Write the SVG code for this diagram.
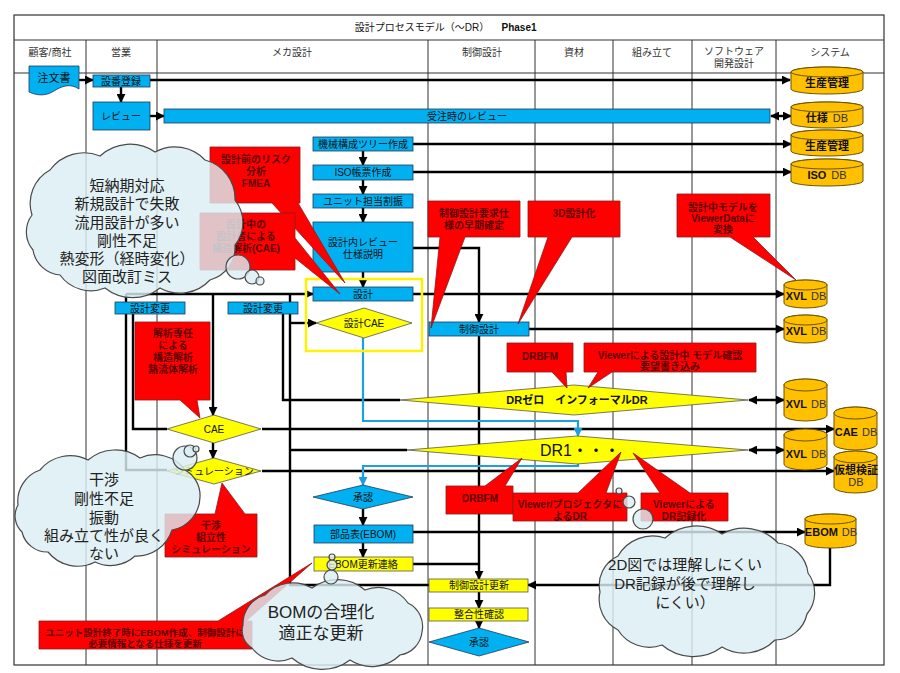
<svg xmlns="http://www.w3.org/2000/svg" width="900" height="673" viewBox="0 0 900 673">
<defs>
<style>
.col{stroke:#333;stroke-width:1;fill:none}
.ln{stroke:#000;stroke-width:2.4;fill:none}
.bl{stroke:#1E9FE0;stroke-width:2.2;fill:none}
.box{fill:#00B0F0;stroke:#1F3B5A;stroke-width:0.8}
.ybox{fill:#FFFF00;stroke:#555;stroke-width:0.8}
.db{fill:#FFC000;stroke:#6b5200;stroke-width:1}
.co{fill:#FF0000;stroke:#8b1a1a;stroke-width:0.8}
.cloud{fill:#DAEEF3;fill-opacity:0.82;stroke:#4a4a4a;stroke-width:1.2}
text{font-family:"Liberation Sans","Noto Sans CJK JP",sans-serif;text-anchor:middle;dominant-baseline:central}
.t{font-size:10px;fill:#111}
.hd{font-size:10px;fill:#333}
.ct{font-size:10px;font-weight:bold;fill:#5c0000}
.cl{font-size:15px;fill:#222}
.dbt{font-size:11px;font-weight:bold;fill:#111}
</style>
<marker id="ah" viewBox="0 0 10 10" refX="9" refY="5" markerWidth="9" markerHeight="9" markerUnits="userSpaceOnUse" orient="auto-start-reverse"><path d="M0,0 L10,5 L0,10 z" fill="#000"/></marker>
<marker id="ahb" viewBox="0 0 10 10" refX="9" refY="5" markerWidth="9" markerHeight="9" markerUnits="userSpaceOnUse" orient="auto"><path d="M0,0 L10,5 L0,10 z" fill="#1E9FE0"/></marker>
</defs>
<rect width="900" height="673" fill="#fff"/>

<g id="grid">
<rect x="14" y="15" width="870" height="650" fill="none" stroke="#333" stroke-width="1.2"/>
<line class="col" x1="14" y1="40" x2="884" y2="40"/>
<line class="col" x1="14" y1="73" x2="884" y2="73"/>
<line class="col" x1="86" y1="40" x2="86" y2="665"/>
<line class="col" x1="157" y1="40" x2="157" y2="665"/>
<line class="col" x1="428" y1="40" x2="428" y2="665"/>
<line class="col" x1="535" y1="40" x2="535" y2="665"/>
<line class="col" x1="613" y1="40" x2="613" y2="665"/>
<line class="col" x1="692" y1="40" x2="692" y2="665"/>
<line class="col" x1="776" y1="40" x2="776" y2="665"/>
<text x="422" y="27" class="hd" style="fill:#111">設計プロセスモデル（〜DR）</text>
<text x="519" y="27" class="hd" style="fill:#111;font-weight:bold">Phase1</text>
<text x="50" y="52" class="hd">顧客/商社</text>
<text x="121" y="52" class="hd">営業</text>
<text x="292" y="52" class="hd">メカ設計</text>
<text x="482" y="52" class="hd">制御設計</text>
<text x="574" y="52" class="hd">資材</text>
<text x="652" y="52" class="hd">組み立て</text>
<text x="734" y="51" class="hd">ソフトウェア</text>
<text x="734" y="63" class="hd">開発設計</text>
<text x="830" y="52" class="hd">システム</text>
</g>

<g id="connectors">
<path class="ln" d="M79,80 H93" marker-end="url(#ah)"/>
<path class="ln" d="M150,80 H790" marker-end="url(#ah)"/>
<path class="ln" d="M121,87 V102" marker-end="url(#ah)"/>
<path class="ln" d="M150,116 H164" marker-end="url(#ah)"/>
<path class="ln" d="M771,116 H791" marker-start="url(#ah)" marker-end="url(#ah)"/>
<path class="ln" d="M413,144 H791" marker-end="url(#ah)"/>
<path class="ln" d="M363,151 V165" marker-end="url(#ah)"/>
<path class="ln" d="M413,172 H791" marker-end="url(#ah)"/>
<path class="ln" d="M363,180 V194" marker-end="url(#ah)"/>
<path class="ln" d="M363,208 V222" marker-end="url(#ah)"/>
<path class="ln" d="M363,272 V287" marker-end="url(#ah)"/>
<path class="ln" d="M413,248 H479 V322" marker-end="url(#ah)"/>
<path class="ln" d="M413,294 H784" marker-end="url(#ah)"/>
<path class="ln" d="M126,294 H313" marker-end="url(#ah)"/>
<path class="ln" d="M126,294 V470 H167"/>
<path class="ln" d="M133,314 V429 H167"/>
<path class="ln" d="M213,294 V415" marker-end="url(#ah)"/>
<path class="ln" d="M213,443 V458" marker-end="url(#ah)"/>
<path class="ln" d="M262,429 H834" marker-end="url(#ah)"/>
<path class="ln" d="M262,471 H834" marker-end="url(#ah)"/>
<path class="ln" d="M283,314 V400 H400"/>
<path class="ln" d="M290,294 V585 H429"/>
<path class="ln" d="M290,323 H316" marker-end="url(#ah)"/>
<path class="ln" d="M290,450 H407"/>
<path class="ln" d="M529,329 H784" marker-end="url(#ah)"/>
<path class="ln" d="M749,400 H784" marker-start="url(#ah)" marker-end="url(#ah)"/>
<path class="ln" d="M749,450 H784" marker-start="url(#ah)" marker-end="url(#ah)"/>
<path class="ln" d="M479,336 V579" marker-end="url(#ah)"/>
<path class="ln" d="M363,509 V525" marker-end="url(#ah)"/>
<path class="ln" d="M413,532 H805" marker-end="url(#ah)"/>
<path class="ln" d="M363,543 V557" marker-end="url(#ah)"/>
<path class="ln" d="M413,564 H479"/>
<path class="ln" d="M830,548 V585 H528" marker-end="url(#ah)"/>
<path class="ln" d="M479,592 V608" marker-end="url(#ah)"/>
<path class="ln" d="M479,621 V628" marker-end="url(#ah)"/>
<path class="bl" d="M363,338 V421 H578 V436" marker-end="url(#ahb)"/>
<path class="bl" d="M578,463 V466 H363 V485" marker-end="url(#ahb)"/>
</g>

<g id="n-chumonsho"><path class="box" d="M29,66 H79 V89 C70,83 62,86 54,91 C46,96 38,96 29,92 Z"/><text x="54" y="78" class="t" style="font-size:11px">注文書</text></g>
<g id="n-setsuban"><rect class="box" x="93" y="75" width="57" height="12"/><text x="121" y="81" class="t">設番登録</text></g>
<g id="n-review"><rect class="box" x="93" y="102" width="57" height="28"/><text x="121" y="116" class="t">レビュー</text></g>
<g id="n-juchu"><rect class="box" x="164" y="109" width="606" height="14"/><text x="467" y="116" class="t">受注時のレビュー</text></g>
<g id="n-kikai"><rect class="box" x="313" y="137" width="100" height="14"/><text x="363" y="144" class="t">機械構成ツリー作成</text></g>
<g id="n-iso"><rect class="box" x="313" y="165" width="100" height="15"/><text x="363" y="172.5" class="t">ISO帳票作成</text></g>
<g id="n-unit"><rect class="box" x="313" y="194" width="100" height="14"/><text x="363" y="201" class="t">ユニット担当割振</text></g>
<g id="n-naireview"><rect class="box" x="313" y="222" width="100" height="50"/><text x="363" y="242" class="t">設計内レビュー</text><text x="363" y="254" class="t">仕様説明</text></g>
<g id="n-yframe"><rect x="306" y="279" width="116" height="72" fill="none" stroke="#FFF200" stroke-width="2.5"/></g>
<g id="n-sekkei"><rect class="box" x="313" y="287" width="100" height="14"/><text x="363" y="294" class="t">設計</text></g>
<g id="n-sekkeicae"><polygon class="ybox" points="316,323 364,308 412,323 364,338"/><text x="364" y="323" class="t">設計CAE</text></g>
<g id="n-henko1"><rect class="box" x="115" y="302" width="70" height="12"/><text x="150" y="308" class="t">設計変更</text></g>
<g id="n-henko2"><rect class="box" x="228" y="302" width="70" height="12"/><text x="263" y="308" class="t">設計変更</text></g>
<g id="n-seigyo"><rect class="box" x="429" y="322" width="100" height="14"/><text x="479" y="329" class="t">制御設計</text></g>
<g id="n-cae"><polygon class="ybox" points="167,429 214,415 261,429 214,443"/><text x="214" y="429" class="t">CAE</text></g>
<g id="n-sim"><polygon class="ybox" points="167,471 214,458 261,471 214,484"/><text x="214" y="471" class="t">シミュレーション</text></g>
<g id="n-drzero"><polygon class="ybox" points="400,400 574,385 748,400 574,415"/><text x="577" y="400" class="t" style="font-size:11px;font-weight:bold">DRゼロ　インフォーマルDR</text></g>
<g id="n-dr1"><polygon class="ybox" points="407,450 577,436 748,450 577,464"/><text x="580" y="450" class="t" style="font-size:16px">DR1・・・</text></g>
<g id="n-shonin1"><polygon class="box" points="313,497 363,485 413,497 363,509"/><text x="363" y="497" class="t">承認</text></g>
<g id="n-ebom"><rect class="box" x="314" y="525" width="99" height="18"/><text x="363" y="534" class="t">部品表(EBOM)</text></g>
<g id="n-ebomkoshin"><rect class="ybox" x="314" y="557" width="99" height="14"/><text x="363" y="564" class="t">EBOM更新連絡</text></g>
<g id="n-seigyokoshin"><rect class="ybox" x="429" y="579" width="99" height="13"/><text x="479" y="585.5" class="t">制御設計更新</text></g>
<g id="n-seigo"><rect class="ybox" x="429" y="608" width="99" height="13"/><text x="479" y="614.5" class="t">整合性確認</text></g>
<g id="n-shonin2"><polygon class="box" points="429,642 479,628 529,642 479,656"/><text x="479" y="642" class="t">承認</text></g>

<g id="db-seisan1"><path class="db" d="M791,72 A36,5 0 0 1 863,72 V89 A36,5 0 0 1 791,89 Z"/><ellipse class="db" cx="827" cy="72" rx="36" ry="5"/><text x="827" y="83" class="dbt">生産管理</text></g>
<g id="db-shiyo"><path class="db" d="M791,107 A36,5 0 0 1 863,107 V123 A36,5 0 0 1 791,123 Z"/><ellipse class="db" cx="827" cy="107" rx="36" ry="5"/><text x="827" y="118" class="dbt">仕様<tspan dx="5" style="font-weight:normal;fill:#333">DB</tspan></text></g>
<g id="db-seisan2"><path class="db" d="M791,135 A36,5 0 0 1 863,135 V151 A36,5 0 0 1 791,151 Z"/><ellipse class="db" cx="827" cy="135" rx="36" ry="5"/><text x="827" y="146" class="dbt">生産管理</text></g>
<g id="db-iso"><path class="db" d="M791,164 A36,5 0 0 1 863,164 V181 A36,5 0 0 1 791,181 Z"/><ellipse class="db" cx="827" cy="164" rx="36" ry="5"/><text x="827" y="175" class="dbt">ISO<tspan dx="5" style="font-weight:normal;fill:#333">DB</tspan></text></g>
<g id="db-xvl1"><path class="db" d="M784,285 A21.5,5 0 0 1 827,285 V303 A21.5,5 0 0 1 784,303 Z"/><ellipse class="db" cx="805.5" cy="285" rx="21.5" ry="5"/><text x="806" y="296" class="dbt">XVL<tspan dx="4" style="font-weight:normal;fill:#333">DB</tspan></text></g>
<g id="db-xvl2"><path class="db" d="M784,320 A21.5,5 0 0 1 827,320 V338 A21.5,5 0 0 1 784,338 Z"/><ellipse class="db" cx="805.5" cy="320" rx="21.5" ry="5"/><text x="806" y="331" class="dbt">XVL<tspan dx="4" style="font-weight:normal;fill:#333">DB</tspan></text></g>
<g id="db-xvl3"><path class="db" d="M784,385 A21.5,6 0 0 1 827,385 V415 A21.5,6 0 0 1 784,415 Z"/><ellipse class="db" cx="805.5" cy="385" rx="21.5" ry="6"/><text x="806" y="404" class="dbt">XVL<tspan dx="4" style="font-weight:normal;fill:#333">DB</tspan></text></g>
<g id="db-xvl4"><path class="db" d="M784,435 A21.5,6 0 0 1 827,435 V464 A21.5,6 0 0 1 784,464 Z"/><ellipse class="db" cx="805.5" cy="435" rx="21.5" ry="6"/><text x="806" y="454" class="dbt">XVL<tspan dx="4" style="font-weight:normal;fill:#333">DB</tspan></text></g>
<g id="db-cae"><path class="db" d="M834,413 A21.5,6 0 0 1 877,413 V444 A21.5,6 0 0 1 834,444 Z"/><ellipse class="db" cx="855.5" cy="413" rx="21.5" ry="6"/><text x="856" y="432" class="dbt">CAE<tspan dx="4" style="font-weight:normal;fill:#333">DB</tspan></text></g>
<g id="db-kaso"><path class="db" d="M834,457 A21.5,6 0 0 1 877,457 V487 A21.5,6 0 0 1 834,487 Z"/><ellipse class="db" cx="855.5" cy="457" rx="21.5" ry="6"/><text x="856" y="470" class="dbt">仮想検証</text><text x="856" y="482" class="dbt" style="font-weight:normal;fill:#333">DB</text></g>
<g id="db-ebom"><path class="db" d="M805,519 A25.5,5 0 0 1 856,519 V543 A25.5,5 0 0 1 805,543 Z"/><ellipse class="db" cx="830.5" cy="519" rx="25.5" ry="5"/><text x="831" y="532" class="dbt">EBOM<tspan dx="4" style="font-weight:normal;fill:#333">DB</tspan></text></g>

<g id="c-fmea"><path class="co" d="M210,147 H300 V203 H298 L345,283 L272,203 H210 Z"/><text x="256" y="159" class="ct">設計前のリスク</text><text x="256" y="171" class="ct">分析</text><text x="256" y="183" class="ct">FMEA</text></g>
<g id="c-cae"><path class="co" d="M200,213 H295 V238 L340,294 L295,258 V270 H200 Z"/><text x="246" y="224" class="ct">設計中の</text><text x="246" y="236" class="ct">設計者による</text><text x="246" y="248" class="ct">構造解析(CAE)</text></g>
<g id="c-seigyo"><path class="co" d="M428,201 H520 V237 H465 L431,328 L440,237 H428 Z"/><text x="474" y="213" class="ct">制御設計要求仕</text><text x="474" y="225" class="ct">様の早期確定</text></g>
<g id="c-3d"><path class="co" d="M528,201 H620 V237 H572 L518,324 L548,237 H528 Z"/><text x="574" y="213" class="ct">3D設計化</text></g>
<g id="c-viewerdata"><path class="co" d="M677,194 H770 V237 H753 L796,280 L730,237 H677 Z"/><text x="723" y="207" class="ct">設計中モデルを</text><text x="723" y="218" class="ct">ViewerDataに</text><text x="723" y="229" class="ct">変換</text></g>
<g id="c-kaiseki"><path class="co" d="M135,322 H210 V400 H197 L200,418 L180,400 H135 Z"/><text x="173" y="333" class="ct">解析専任</text><text x="173" y="345" class="ct">による</text><text x="173" y="357" class="ct">構造解析</text><text x="173" y="369" class="ct">熱流体解析</text></g>
<g id="c-drbfm1"><path class="co" d="M507,343 H573 V372 H566 L567,388 L552,372 H507 Z"/><text x="540" y="356" class="ct">DRBFM</text></g>
<g id="c-viewer1"><path class="co" d="M584,343 H756 V372 H612 L588,388 L598,372 H584 Z"/><text x="670" y="355" class="ct">Viewerによる設計中 モデル確認</text><text x="670" y="366" class="ct">要望書き込み</text></g>
<g id="c-drbfm2"><path class="co" d="M446,486 H485 L522,458 L505,486 H513 V514 H446 Z"/><text x="480" y="498" class="ct">DRBFM</text></g>
<g id="c-projector"><path class="co" d="M513,493 H578 L621,452 L606,493 H627 V521 H513 Z"/><text x="570" y="504" class="ct">Viewer/プロジェクタに</text><text x="570" y="516" class="ct">よるDR</text></g>
<g id="c-drkiroku"><path class="co" d="M641,493 H660 L633,453 L690,493 H728 V521 H641 Z"/><text x="684" y="504" class="ct">Viewerによる</text><text x="684" y="516" class="ct">DR記録化</text></g>
<g id="c-kansho"><path class="co" d="M165,514 H215 L222,483 L245,514 H257 V557 H165 Z"/><text x="211" y="525" class="ct">干渉</text><text x="211" y="537" class="ct">組立性</text><text x="211" y="549" class="ct">シミュレーション</text></g>
<g id="c-unit"><path class="co" d="M39,621 H218 L312,563 L246,621 H252 V649 H39 Z"/><text x="145" y="632" class="ct" style="font-size:9.5px">ユニット設計終了時にEBOM作成、制御設計に</text><text x="145" y="643" class="ct" style="font-size:9.5px">必要情報となる仕様を更新</text></g>

<g id="cloud1">
<path class="cloud" d="M32,215 A38,38 0 0 1 50,170 A42,42 0 0 1 100,156 A44,44 0 0 1 155,152 A41,41 0 0 1 205,160 A40,40 0 0 1 235,200 A36,36 0 0 1 235,245 A34,34 0 0 1 210,280 A41,41 0 0 1 160,288 A44,44 0 0 1 105,288 A38,38 0 0 1 60,275 A30,30 0 0 1 33,250 A28,28 0 0 1 32,215 Z"/>
<circle class="cloud" cx="238" cy="267" r="12"/><circle class="cloud" cx="252" cy="277" r="7"/><circle class="cloud" cx="260" cy="281" r="4"/>
<text x="127" y="185" class="cl">短納期対応</text><text x="127" y="203" class="cl">新規設計で失敗</text><text x="127" y="222" class="cl">流用設計が多い</text><text x="127" y="240" class="cl">剛性不足</text><text x="127" y="258" class="cl">熱変形（経時変化）</text><text x="127" y="276" class="cl">図面改訂ミス</text>
</g>
<g id="cloud2">
<path class="cloud" d="M18,505 A33,33 0 0 1 40,470 A39,39 0 0 1 88,460 A42,42 0 0 1 140,458 A37,37 0 0 1 185,470 A29,29 0 0 1 200,497 A34,34 0 0 1 172,530 A37,37 0 0 1 135,556 A36,36 0 0 1 95,562 A38,38 0 0 1 48,552 A26,26 0 0 1 22,532 A22,22 0 0 1 18,505 Z"/>
<circle class="cloud" cx="185" cy="458" r="12"/><circle class="cloud" cx="190" cy="451" r="6"/><circle class="cloud" cx="196" cy="449" r="3"/>
<text x="104" y="479" class="cl">干渉</text><text x="104" y="498" class="cl">剛性不足</text><text x="104" y="517" class="cl">振動</text><text x="104" y="535" class="cl">組み立て性が良く</text><text x="104" y="553" class="cl">ない</text>
</g>
<g id="cloud3">
<path class="cloud" d="M243,625 A30,30 0 0 1 265,595 A38,38 0 0 1 312,588 A42,42 0 0 1 365,590 A36,36 0 0 1 408,603 A26,26 0 0 1 422,632 A26,26 0 0 1 400,655 A40,40 0 0 1 350,660 A46,46 0 0 1 292,658 A33,33 0 0 1 252,648 A20,20 0 0 1 243,625 Z"/>
<circle class="cloud" cx="331" cy="577" r="7"/><circle class="cloud" cx="332" cy="565" r="5"/><circle class="cloud" cx="332" cy="557" r="3"/>
<text x="321" y="612" class="cl" style="font-size:17px">BOMの合理化</text><text x="321" y="633" class="cl" style="font-size:17px">適正な更新</text>
</g>
<g id="cloud4">
<path class="cloud" d="M600,592 A32,32 0 0 1 618,556 A40,40 0 0 1 665,538 A46,46 0 0 1 722,534 A46,46 0 0 1 778,543 A34,34 0 0 1 808,573 A33,33 0 0 1 807,614 A33,33 0 0 1 775,640 A43,43 0 0 1 722,647 A48,48 0 0 1 662,645 A37,37 0 0 1 618,630 A34,34 0 0 1 600,592 Z"/>
<circle class="cloud" cx="643" cy="519" r="10"/><circle class="cloud" cx="629" cy="502" r="6"/><circle class="cloud" cx="619" cy="491" r="3"/>
<text x="685" y="564" class="cl">2D図では理解しにくい</text><text x="685" y="583" class="cl">DR記録が後で理解し</text><text x="685" y="602" class="cl">にくい）</text>
</g>
</svg>
